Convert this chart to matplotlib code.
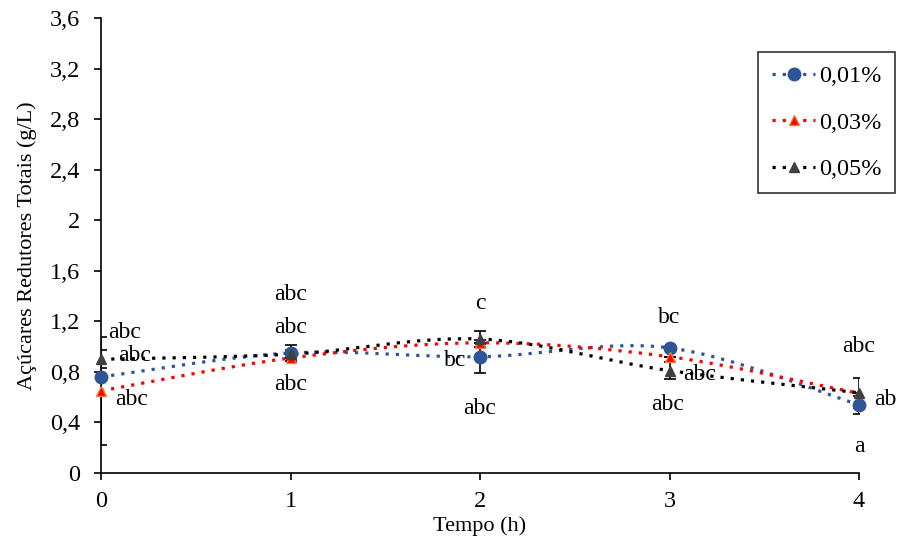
import numpy as np
import matplotlib
matplotlib.use('Agg')
import matplotlib.pyplot as plt
from matplotlib.path import Path
from matplotlib.patches import PathPatch
from matplotlib.lines import Line2D

plt.rcParams['font.family'] = ['Liberation Serif', 'DejaVu Serif']

# dados
tempo = [0, 1, 2, 3, 4]
c001 = [0.76, 0.95, 0.92, 0.99, 0.54]
c003 = [0.65, 0.91, 1.03, 0.92, 0.63]
c005 = [0.90, 0.94, 1.06, 0.81, 0.635]
err001 = [0.0, 0.06, 0.13, 0.0, 0.07]
err003 = [0.43, 0.0, 0.0, 0.0, 0.0]
err005 = [0.07, 0.03, 0.06, 0.07, 0.12]
legendas = ['0,01%', '0,03%', '0,05%']

# letras (texto, x, y, alinhamento)
letras = [
    ('abc', 0.035, 1.115, 'left'), ('abc', 0.09, 0.93, 'left'), ('abc', 0.075, 0.58, 'left'),
    ('abc', 1.0, 1.41, 'center'), ('abc', 1.0, 1.15, 'center'), ('abc', 1.0, 0.70, 'center'),
    ('c', 2.0, 1.34, 'center'), ('bc', 1.87, 0.89, 'center'), ('abc', 2.0, 0.51, 'center'),
    ('bc', 3.0, 1.23, 'center'), ('abc', 3.16, 0.78, 'center'), ('abc', 2.99, 0.54, 'center'),
    ('abc', 4.0, 1.0, 'center'), ('ab', 4.14, 0.58, 'center'), ('a', 4.0, 0.21, 'center'),
]


# linha suavizada (estilo Excel)
def smooth_path(x, y):
    pts = np.column_stack([x, y]).astype(float)
    verts = [pts[0]]
    codes = [Path.MOVETO]
    n = len(pts)
    for i in range(n - 1):
        p0 = pts[max(i - 1, 0)]
        p1 = pts[i]
        p2 = pts[i + 1]
        p3 = pts[min(i + 2, n - 1)]
        c1 = p1 + (p2 - p0) / 6.0
        c2 = p2 - (p3 - p1) / 6.0
        verts += [c1, c2, p2]
        codes += [Path.CURVE4] * 3
    return Path(verts, codes)


fig = plt.figure(figsize=(9.01, 5.49), dpi=100)
ax = fig.add_axes([0.1121, 0.1384, 0.8413, 0.8288])

series = [
    (c001, err001, '#2F5597', 'o', '#2F5597', '#2F5597', 9),
    (c003, err003, '#FF0000', '^', '#FF0000', '#ED7D31', 7),
    (c005, err005, '#000000', '^', '#404040', '#404040', 7),
]
handles = []
for vals, err, lc, mk, fc, ec, ms in series:
    ax.add_patch(PathPatch(smooth_path(tempo, vals), fill=False, edgecolor=lc,
                           linestyle=(0, (1, 2.2)), linewidth=2.3, zorder=2))
    ax.errorbar(tempo, vals, yerr=err, fmt='none', ecolor='black', elinewidth=1.2,
                capsize=4, capthick=1.2, zorder=3)
    ax.plot(tempo, vals, linestyle='none', marker=mk, markersize=ms,
            markerfacecolor=fc, markeredgecolor=ec, zorder=4, clip_on=False)
    handles.append(Line2D([], [], color=lc, linestyle=(0, (1, 2.2)), linewidth=2.3,
                          marker=mk, markersize=ms, markerfacecolor=fc, markeredgecolor=ec))

for txt, x, y, ha in letras:
    ax.text(x, y, txt, ha=ha, va='center', fontsize=17, zorder=5)

ax.set_xlim(0, 4)
ax.set_ylim(0, 3.6)
ax.set_xticks(tempo)
ax.set_yticks(np.arange(0, 3.61, 0.4))
ax.set_yticklabels(['0', '0,4', '0,8', '1,2', '1,6', '2', '2,4', '2,8', '3,2', '3,6'])
ax.tick_params(axis='both', which='major', labelsize=17.5, direction='out', length=5, width=1.2)
ax.tick_params(axis='y', pad=10)
ax.tick_params(axis='x', pad=8)
for s in ['top', 'right']:
    ax.spines[s].set_visible(False)
for s in ['left', 'bottom']:
    ax.spines[s].set_linewidth(1.2)

ax.set_xlabel('Tempo (h)', fontsize=16, labelpad=3)
ax.set_ylabel('Açúcares Redutores Totais (g/L)', fontsize=16, labelpad=9)

leg = ax.legend(handles, legendas, loc='upper right', bbox_to_anchor=(895 / 901, 1 - 52 / 549),
                bbox_transform=fig.transFigure, borderaxespad=0,
                fontsize=17.5, frameon=True, fancybox=False, edgecolor='black',
                handlelength=1.8, labelspacing=1.0, borderpad=0.55, handletextpad=0.15)
leg.get_frame().set_linewidth(1.2)

fig.savefig('out.png', dpi=100)
